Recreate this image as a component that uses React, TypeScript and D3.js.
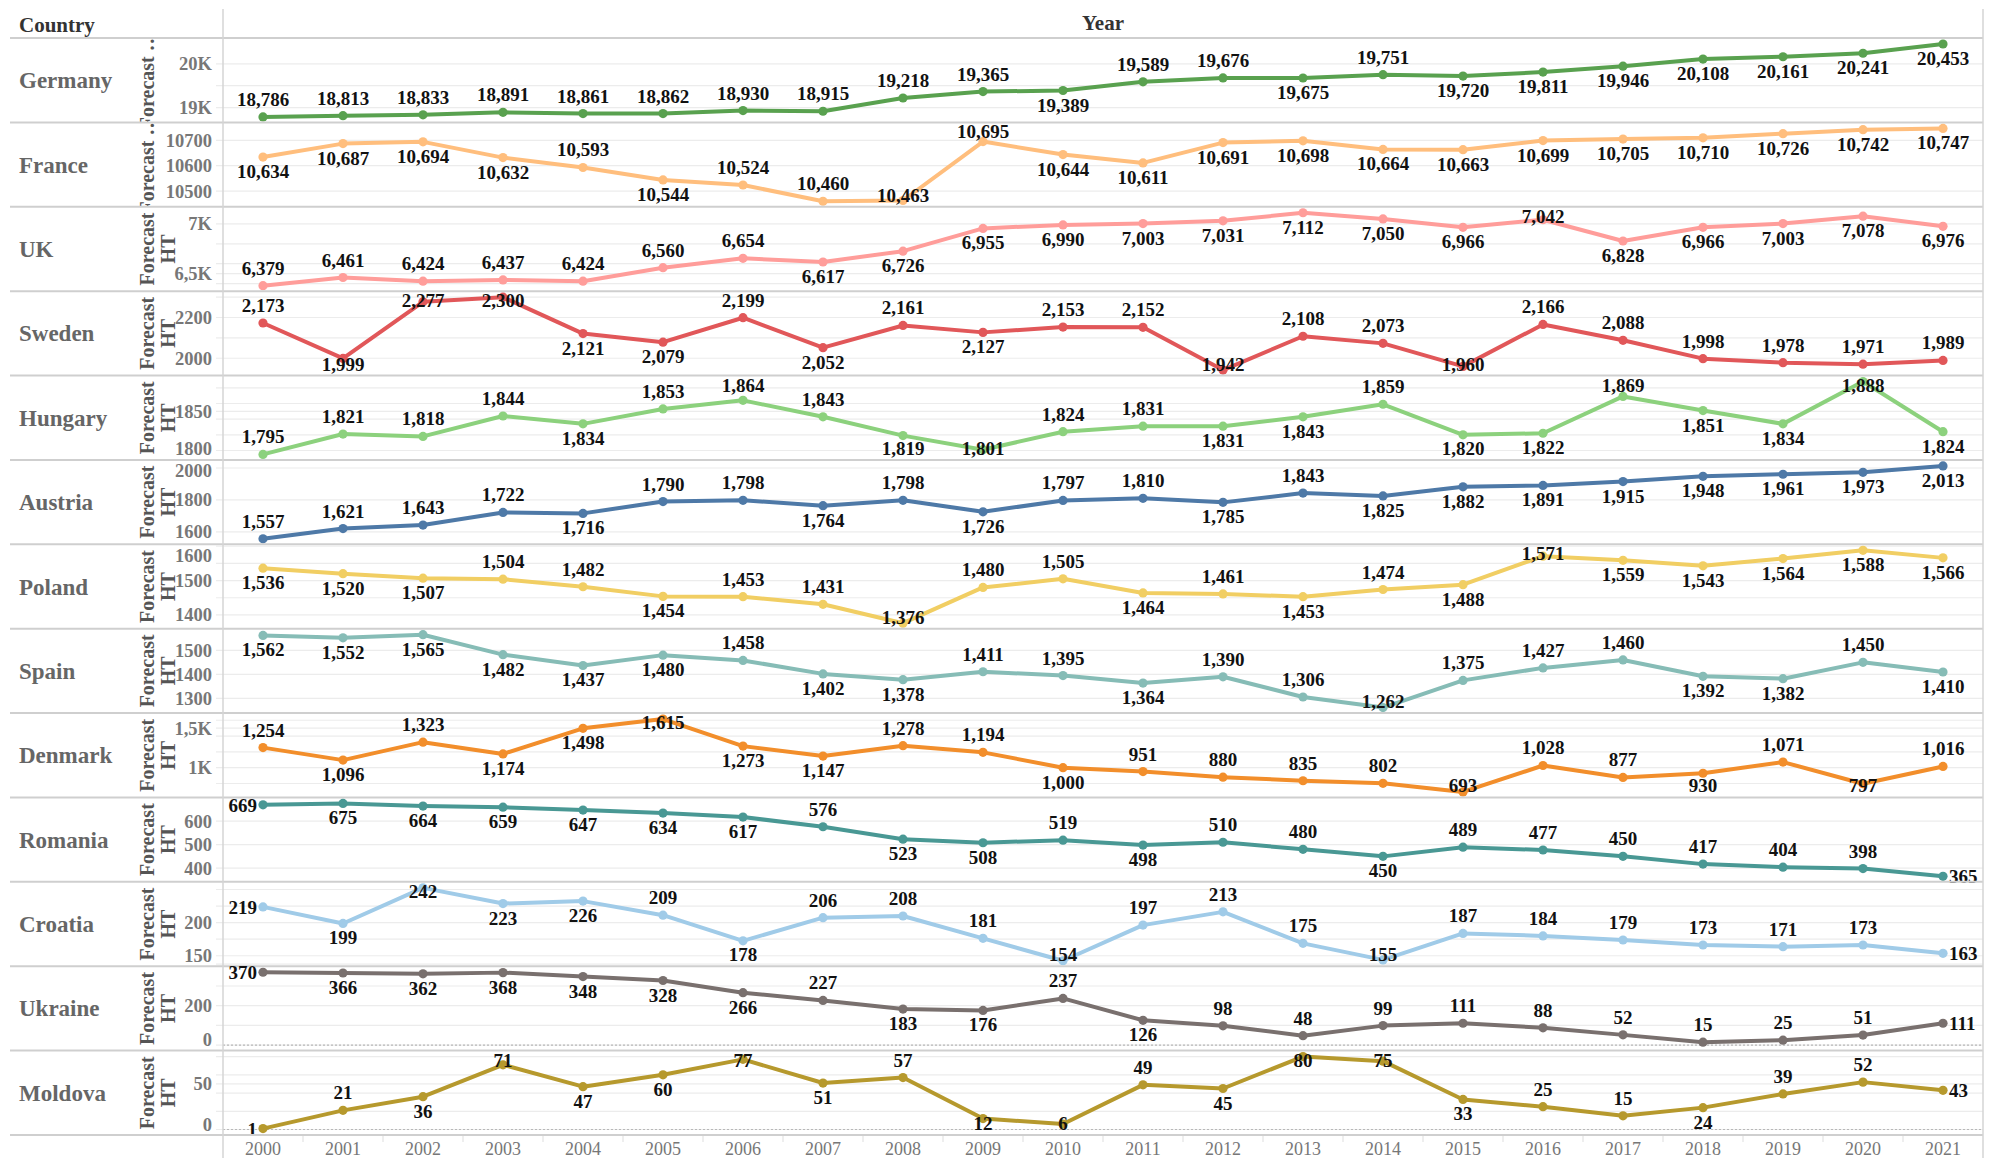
import React from "react";
import * as d3 from "d3";

const W = 2006;
const H = 1158;

const years = ["2000", "2001", "2002", "2003", "2004", "2005", "2006", "2007", "2008", "2009", "2010",
  "2011", "2012", "2013", "2014", "2015", "2016", "2017", "2018", "2019", "2020", "2021"];

const countries = ["Germany", "France", "UK", "Sweden", "Hungary", "Austria", "Poland", "Spain",
  "Denmark", "Romania", "Croatia", "Ukraine", "Moldova"];

const germany = [18786, 18813, 18833, 18891, 18861, 18862, 18930, 18915, 19218, 19365, 19389, 19589, 19676, 19675, 19751, 19720, 19811, 19946, 20108, 20161, 20241, 20453];
const france = [10634, 10687, 10694, 10632, 10593, 10544, 10524, 10460, 10463, 10695, 10644, 10611, 10691, 10698, 10664, 10663, 10699, 10705, 10710, 10726, 10742, 10747];
const uk = [6379, 6461, 6424, 6437, 6424, 6560, 6654, 6617, 6726, 6955, 6990, 7003, 7031, 7112, 7050, 6966, 7042, 6828, 6966, 7003, 7078, 6976];
const sweden = [2173, 1999, 2277, 2300, 2121, 2079, 2199, 2052, 2161, 2127, 2153, 2152, 1942, 2108, 2073, 1960, 2166, 2088, 1998, 1978, 1971, 1989];
const hungary = [1795, 1821, 1818, 1844, 1834, 1853, 1864, 1843, 1819, 1801, 1824, 1831, 1831, 1843, 1859, 1820, 1822, 1869, 1851, 1834, 1888, 1824];
const austria = [1557, 1621, 1643, 1722, 1716, 1790, 1798, 1764, 1798, 1726, 1797, 1810, 1785, 1843, 1825, 1882, 1891, 1915, 1948, 1961, 1973, 2013];
const poland = [1536, 1520, 1507, 1504, 1482, 1454, 1453, 1431, 1376, 1480, 1505, 1464, 1461, 1453, 1474, 1488, 1571, 1559, 1543, 1564, 1588, 1566];
const spain = [1562, 1552, 1565, 1482, 1437, 1480, 1458, 1402, 1378, 1411, 1395, 1364, 1390, 1306, 1262, 1375, 1427, 1460, 1392, 1382, 1450, 1410];
const denmark = [1254, 1096, 1323, 1174, 1498, 1615, 1273, 1147, 1278, 1194, 1000, 951, 880, 835, 802, 693, 1028, 877, 930, 1071, 797, 1016];
const romania = [669, 675, 664, 659, 647, 634, 617, 576, 523, 508, 519, 498, 510, 480, 450, 489, 477, 450, 417, 404, 398, 365];
const croatia = [219, 199, 242, 223, 226, 209, 178, 206, 208, 181, 154, 197, 213, 175, 155, 187, 184, 179, 173, 171, 173, 163];
const ukraine = [370, 366, 362, 368, 348, 328, 266, 227, 183, 176, 237, 126, 98, 48, 99, 111, 88, 52, 15, 25, 51, 111];
const moldova = [1, 21, 36, 71, 47, 60, 77, 51, 57, 12, 6, 49, 45, 80, 75, 33, 25, 15, 24, 39, 52, 43];

const series = [germany, france, uk, sweden, hungary, austria, poland, spain, denmark, romania, croatia, ukraine, moldova];

const colors = ["#59a14f", "#ffbe7d", "#ff9d9a", "#e15759", "#8cd17d", "#4e79a7", "#f1ce63",
  "#86bcb6", "#f28e2b", "#499894", "#a0cbe8", "#79706e", "#b6992d"];

const tickValues = [
  [19000, 20000], [10500, 10600, 10700], [6500, 7000], [2000, 2200], [1800, 1850],
  [1600, 1800, 2000], [1400, 1500, 1600], [1300, 1400, 1500], [1000, 1500],
  [400, 500, 600], [150, 200], [0, 200], [0, 50],
];
const tickLabels = [
  ["19K", "20K"], ["10500", "10600", "10700"], ["6,5K", "7K"], ["2000", "2200"], ["1800", "1850"],
  ["1600", "1800", "2000"], ["1400", "1500", "1600"], ["1300", "1400", "1500"], ["1K", "1,5K"],
  ["400", "500", "600"], ["150", "200"], ["0", "200"], ["0", "50"],
];

const zeroBased = ["Ukraine", "Moldova"];
const shortTitle = ["Germany", "France"];

const paneL = 223;
const paneR = 1983;
const rowsTop = 38;
const rowsBottom = 1135;
const font = "Liberation Serif, Times New Roman, serif";
const fmt = d3.format(",");

type Lab = { x: number; y: number; anchor: "start" | "middle" | "end" };

// pick a spot for each value label, roughly the way Tableau does it
function placeLabels(vals: number[], xs: number[], y: d3.ScaleLinear<number, number>, top: number, bottom: number): Lab[] {
  return vals.map((v, i) => {
    const py = y(v);
    const text = fmt(v);
    const last = vals.length - 1;
    if (text.length <= 3 && i === 0) return { x: xs[i] - 6, y: py + 7, anchor: "end" };
    if (text.length <= 3 && i === last) return { x: xs[i] + 6, y: py + 7, anchor: "start" };
    let ref: number;
    if (i === 0) ref = (v + vals[1]) / 2;
    else if (i === last) ref = (v + vals[i - 1]) / 2;
    else ref = (vals[i - 1] + vals[i + 1]) / 2;
    const d = y(ref) - py; // > 0 when the point sits above its neighbours
    let above = d >= 0;
    const fitsAbove = py - 28 >= top;
    const fitsBelow = py + 24 <= bottom;
    if (Math.abs(d) < 12) {
      if (above && !fitsAbove && fitsBelow) above = false;
      else if (!above && !fitsBelow && fitsAbove) above = true;
    }
    const base = above ? Math.max(py - 11, top + 16) : Math.min(py + 21, bottom - 5);
    return { x: xs[i], y: base, anchor: "middle" };
  });
}

export default function App() {
  const x = d3.scaleBand<string>().domain(years).range([paneL, paneR]);
  const cx = (yr: string) => (x(yr) as number) + x.bandwidth() / 2;
  const row = d3.scaleBand<string>().domain(countries).range([rowsTop, rowsBottom]);
  const rh = row.bandwidth();
  const xs = years.map(cx);

  const rows = countries.map((c, i) => {
    const top = row(c) as number;
    const bottom = top + rh;
    const vals = series[i];
    const [mn, mx] = d3.extent(vals) as [number, number];
    const lo = zeroBased.includes(c) ? Math.min(0, mn) : mn;
    const y = d3.scaleLinear().domain([lo, mx]).range([bottom - 5.5, top + 6]);
    const grid = Array.from(new Set([...y.ticks(3), ...tickValues[i]]))
      .filter((t) => y(t) >= top && y(t) <= bottom);
    const line = d3.line<number>().x((_, j) => xs[j]).y((v) => y(v));
    const labels = placeLabels(vals, xs, y, top, bottom);
    const mid = top + rh / 2;

    return (
      <g key={c}>
        <clipPath id={"clip" + i}>
          <rect x={0} y={top} width={paneL} height={rh} />
        </clipPath>
        {grid.map((t) => (
          <line key={t} x1={paneL - 7} x2={paneR} y1={y(t)} y2={y(t)} stroke="#ececec" strokeWidth={1.2} />
        ))}
        {zeroBased.includes(c) && (
          <line x1={paneL} x2={paneR} y1={y(0)} y2={y(0)} stroke="#b8b8b8" strokeWidth={1.2} strokeDasharray="2,2" />
        )}
        <text x={19} y={mid + 8} fontFamily={font} fontWeight="bold" fontSize={23} fill="#666">{c}</text>
        <g clipPath={`url(#clip${i})`} fontFamily={font} fontWeight="bold" fontSize={20} fill="#555">
          {shortTitle.includes(c) ? (
            <text transform={`translate(147,${mid}) rotate(-90)`} textAnchor="middle" dominantBaseline="central">Forecast …</text>
          ) : (
            <>
              <text transform={`translate(147,${mid}) rotate(-90)`} textAnchor="middle" dominantBaseline="central">Forecast</text>
              <text transform={`translate(168,${mid}) rotate(-90)`} textAnchor="middle" dominantBaseline="central">HT</text>
            </>
          )}
        </g>
        {tickValues[i].map((t, k) => {
          const ty = Math.min(Math.max(y(t), top + 11), bottom - 11);
          return (
            <text key={t} x={212} y={ty + 6.5} textAnchor="end" fontFamily={font} fontWeight="bold" fontSize={18.5} fill="#777">
              {tickLabels[i][k]}
            </text>
          );
        })}
        <path d={line(vals) as string} fill="none" stroke={colors[i]} strokeWidth={4} strokeLinejoin="round" />
        {vals.map((v, j) => (
          <circle key={j} cx={xs[j]} cy={y(v)} r={4.6} fill={colors[i]} />
        ))}
        {vals.map((v, j) => (
          <text key={j} x={labels[j].x} y={labels[j].y} textAnchor={labels[j].anchor} fontFamily={font} fontWeight="bold" fontSize={19} fill="#111">
            {fmt(v)}
          </text>
        ))}
        <line x1={10} x2={paneR} y1={bottom} y2={bottom} stroke="#cfcfcf" strokeWidth={2} />
      </g>
    );
  });

  return (
    <div>
      <style>{"body{margin:0}"}</style>
      <svg width={W} height={H} viewBox={`0 0 ${W} ${H}`} style={{ display: "block", background: "#fff" }}>
        <text x={19} y={32} fontFamily={font} fontWeight="bold" fontSize={21} fill="#333">Country</text>
        <text x={(paneL + paneR) / 2} y={30} textAnchor="middle" fontFamily={font} fontWeight="bold" fontSize={21} fill="#333">Year</text>
        <line x1={10} x2={paneR} y1={rowsTop} y2={rowsTop} stroke="#cfcfcf" strokeWidth={2} />
        {rows}
        <line x1={paneL} x2={paneL} y1={9} y2={H} stroke="#d4d4d4" strokeWidth={1.5} />
        <line x1={paneR} x2={paneR} y1={9} y2={H} stroke="#d4d4d4" strokeWidth={1.5} />
        {years.slice(1).map((yr) => (
          <line key={yr} x1={x(yr)} x2={x(yr)} y1={rowsBottom + 1} y2={rowsBottom + 7} stroke="#ddd" strokeWidth={1} />
        ))}
        {years.map((yr) => (
          <text key={yr} x={cx(yr)} y={1155} textAnchor="middle" fontFamily={font} fontSize={18} fill="#777">{yr}</text>
        ))}
      </svg>
    </div>
  );
}
